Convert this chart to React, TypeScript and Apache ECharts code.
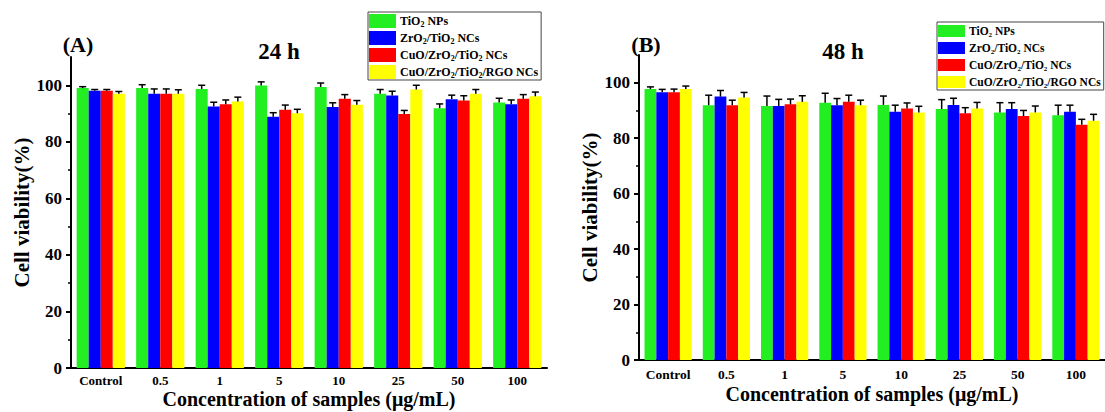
import React, { useEffect, useRef } from "react";
import * as echarts from "echarts";

const CATEGORIES = ["Control", "0.5", "1", "5", "10", "25", "50", "100"];
const SERIES_NAMES = ["TiO2 NPs", "ZrO2/TiO2 NCs", "CuO/ZrO2/TiO2 NCs", "CuO/ZrO2/TiO2/RGO NCs"];
const COLORS = ["#22ee22", "#0000ff", "#ff0000", "#ffff00"];
const Y_LABELS = [0, 20, 40, 60, 80, 100];
const Y_MINOR = [10, 30, 50, 70, 90];

// 24 h
const TIO2_24 = [99.0, 99.0, 98.7, 99.9, 99.4, 97.0, 91.9, 93.9];
const ZRO2_24 = [98.1, 97.0, 92.5, 88.9, 92.3, 96.4, 95.1, 93.3];
const CUO_24 = [98.1, 97.0, 93.3, 91.3, 95.2, 89.8, 94.6, 95.2];
const RGO_24 = [97.0, 97.0, 94.3, 90.1, 93.1, 98.5, 97.0, 96.1];
const TIO2_24_ERR = [0.5, 1.2, 1.3, 1.3, 1.4, 1.5, 1.5, 1.5];
const ZRO2_24_ERR = [0.4, 1.7, 1.5, 1.4, 1.5, 1.5, 1.4, 1.5];
const CUO_24_ERR = [0.4, 1.7, 1.5, 1.7, 1.5, 1.3, 1.7, 1.5];
const RGO_24_ERR = [0.8, 1.4, 1.5, 1.4, 1.5, 1.5, 1.5, 1.5];

// 48 h
const TIO2_48 = [97.7, 91.9, 91.6, 92.8, 92.0, 90.5, 89.3, 88.3];
const ZRO2_48 = [96.6, 95.0, 91.6, 91.9, 89.5, 92.0, 90.5, 89.5];
const CUO_48 = [96.6, 91.9, 92.2, 93.1, 90.7, 89.0, 88.0, 84.8];
const RGO_48 = [97.7, 94.7, 93.1, 91.9, 89.3, 90.7, 89.3, 86.3];
const TIO2_48_ERR = [0.8, 3.6, 3.6, 3.4, 3.2, 3.4, 3.5, 3.6];
const ZRO2_48_ERR = [1.0, 2.2, 2.4, 2.4, 2.4, 2.4, 2.3, 2.4];
const CUO_48_ERR = [1.1, 1.8, 1.9, 2.4, 2.0, 2.0, 2.0, 2.0];
const RGO_48_ERR = [1.1, 1.8, 2.2, 1.8, 2.2, 2.2, 2.3, 2.3];

const VALUES_24 = [TIO2_24, ZRO2_24, CUO_24, RGO_24];
const ERRORS_24 = [TIO2_24_ERR, ZRO2_24_ERR, CUO_24_ERR, RGO_24_ERR];
const VALUES_48 = [TIO2_48, ZRO2_48, CUO_48, RGO_48];
const ERRORS_48 = [TIO2_48_ERR, ZRO2_48_ERR, CUO_48_ERR, RGO_48_ERR];

const FONT = '"Liberation Serif", "Times New Roman", serif';
const CAT_GAP = 0.19;

function legendFmt(name: string) {
  return name.replace(/O2/g, "O{s|2}");
}

function makeLegend(left: number, top: number, fontSize: number, itemHeight: number, itemGap: number) {
  return {
    orient: "vertical",
    left,
    top,
    data: SERIES_NAMES,
    icon: "rect",
    itemWidth: 27,
    itemHeight,
    itemGap,
    itemStyle: { borderWidth: 0 },
    padding: [2, 3, 1, 1],
    borderColor: "#444",
    borderWidth: 1,
    selectedMode: false,
    formatter: legendFmt,
    textStyle: {
      fontFamily: FONT,
      fontWeight: "bold",
      fontSize,
      color: "#000",
      lineHeight: 14,
      padding: [0, 0, 0, -1],
      rich: {
        s: {
          fontFamily: FONT,
          fontWeight: "bold",
          fontSize: Math.round(fontSize * 0.65),
          lineHeight: 6,
          verticalAlign: "bottom",
          color: "#000",
        },
      },
    },
  };
}

function makeAxes(gridIndex: number, nameGap: number, labelSize: number, labelMargin: number) {
  const xMain = {
    type: "category",
    gridIndex,
    data: CATEGORIES,
    position: "bottom",
    axisLine: { lineStyle: { color: "#000", width: 2 } },
    axisTick: { alignWithLabel: true, length: 4, lineStyle: { color: "#000", width: 2 } },
    axisLabel: {
      interval: 0,
      color: "#000",
      fontFamily: FONT,
      fontWeight: "bold",
      fontSize: labelSize,
      margin: labelMargin,
    },
    name: "Concentration of samples (μg/mL)",
    nameLocation: "middle",
    nameGap,
    nameMoveOverlap: false,
    nameTextStyle: { color: "#000", fontFamily: FONT, fontWeight: "bold", fontSize: 20 },
    splitLine: { show: false },
  };
  const xDecor = {
    type: "category",
    gridIndex,
    data: CATEGORIES,
    position: "bottom",
    axisLine: { show: false },
    axisTick: { interval: 0, length: 3, lineStyle: { color: "#000", width: 1.5 } },
    axisLabel: { show: false },
    splitLine: { show: false },
  };
  const yMain = {
    type: "value",
    gridIndex,
    min: 0,
    max: 110,
    interval: 10,
    position: "left",
    axisLine: { show: true, lineStyle: { color: "#000", width: 2 } },
    axisTick: { show: true, length: 5, customValues: Y_LABELS, lineStyle: { color: "#000", width: 2 } },
    axisLabel: {
      color: "#000",
      fontFamily: FONT,
      fontWeight: "bold",
      fontSize: 17,
      margin: 9,
      customValues: Y_LABELS,
    },
    splitLine: { show: false },
    name: "Cell viability(%)",
    nameLocation: "middle",
    nameRotate: 90,
    nameGap: 39,
    nameMoveOverlap: false,
    nameTextStyle: { color: "#000", fontFamily: FONT, fontWeight: "bold", fontSize: 21 },
  };
  const yDecor = {
    type: "value",
    gridIndex,
    min: 0,
    max: 110,
    interval: 10,
    position: "left",
    axisLine: { show: false },
    axisTick: { show: true, length: 3, customValues: Y_MINOR, lineStyle: { color: "#000", width: 1.5 } },
    axisLabel: { show: false },
    splitLine: { show: false },
  };
  return { xMain, xDecor, yMain, yDecor };
}

function makeSeries(values: number[][], errors: number[][], xAxisIndex: number, yAxisIndex: number) {
  const out: any[] = [];
  values.forEach((vals, k) => {
    out.push({
      type: "bar",
      name: SERIES_NAMES[k],
      xAxisIndex,
      yAxisIndex,
      data: vals,
      barGap: "0%",
      barCategoryGap: `${CAT_GAP * 100}%`,
      itemStyle: { color: COLORS[k] },
      z: 2,
    });
  });
  values.forEach((vals, k) => {
    out.push({
      type: "custom",
      xAxisIndex,
      yAxisIndex,
      z: 3,
      silent: true,
      data: vals.map((v, i) => [i, v, errors[k][i]]),
      encode: { x: 0, y: 1 },
      renderItem: (params: any, api: any) => {
        const cat = api.value(0);
        const v = api.value(1);
        const e = api.value(2);
        const p0 = api.coord([cat, v]);
        const p1 = api.coord([cat, v + e]);
        const band = api.size([1, 0])[0];
        const bw = (band * (1 - CAT_GAP)) / 4;
        const x = p0[0] + (k - 1.5) * bw;
        const style = { stroke: "#000", lineWidth: 1.5 };
        return {
          type: "group",
          children: [
            { type: "line", shape: { x1: x, y1: p0[1], x2: x, y2: p1[1] }, style },
            { type: "line", shape: { x1: x - 3.5, y1: p1[1], x2: x + 3.5, y2: p1[1] }, style },
          ],
        };
      },
    });
  });
  return out;
}

function textEl(text: string, x: number, y: number, size: number) {
  return {
    type: "text",
    x,
    y,
    style: {
      text,
      fill: "#000",
      fontFamily: FONT,
      fontWeight: "bold",
      fontSize: size,
      align: "center",
      verticalAlign: "middle",
    },
  };
}

export default function App() {
  const ref = useRef<HTMLDivElement>(null);
  useEffect(() => {
    if (!ref.current) return;
    const chart = echarts.init(ref.current, undefined, { renderer: "svg" });
    const a = makeAxes(0, 21, 13, 6);
    const b = makeAxes(1, 24, 13.5, 7);
    const option: any = {
      animation: false,
      backgroundColor: "#fff",
      grid: [
        { left: 71, right: 558, top: 57, bottom: 44, outerBoundsMode: "none", containLabel: false },
        { left: 639, right: 0, top: 55, bottom: 52, outerBoundsMode: "none", containLabel: false },
      ],
      xAxis: [a.xMain, a.xDecor, b.xMain, b.xDecor],
      yAxis: [a.yMain, a.yDecor, b.yMain, b.yDecor],
      legend: [makeLegend(368, 12, 12, 14, 3), makeLegend(937, 22, 11.5, 12, 3)],
      series: [
        ...makeSeries(VALUES_24, ERRORS_24, 0, 0),
        ...makeSeries(VALUES_48, ERRORS_48, 2, 2),
      ],
      graphic: [
        textEl("(A)", 78, 44, 22),
        textEl("24 h", 279, 51, 23),
        textEl("(B)", 646, 44, 22),
        textEl("48 h", 843, 51, 23),
      ],
    };
    chart.setOption(option);
    return () => chart.dispose();
  }, []);
  return (
    <div
      ref={ref}
      style={{ position: "absolute", left: 0, top: 0, width: 1105, height: 412 }}
    />
  );
}
